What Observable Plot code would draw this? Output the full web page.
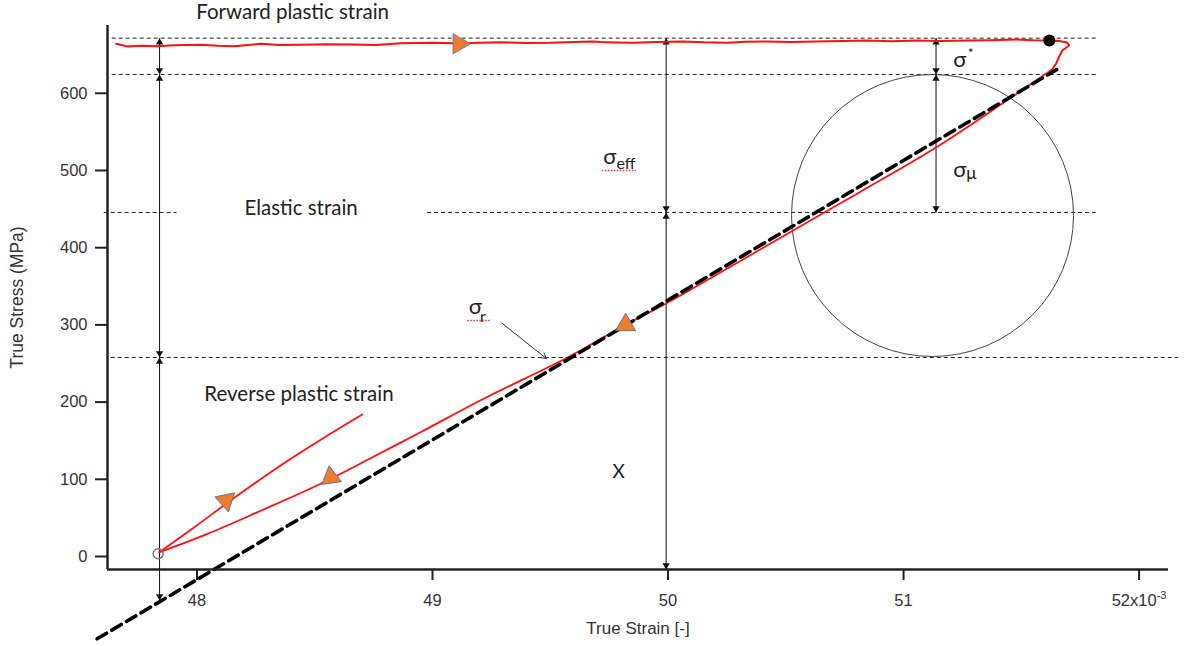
<!DOCTYPE html>
<html><head><meta charset="utf-8">
<script src="https://cdn.jsdelivr.net/npm/d3@7"></script>
<script src="https://cdn.jsdelivr.net/npm/@observablehq/plot@0.6"></script>
<style>body{margin:0;background:#fff;} svg{display:block;}</style>
</head><body><div id="chart"></div>
<script>
// Axis ticks
const strainTicks = [48, 49, 50, 51, 52];
const stressTicks = [0, 100, 200, 300, 400, 500, 600];

// Forward plastic strain branch (true strain x1e-3, true stress MPa) incl. turn at peak
const forwardStrain = [47.657,47.706,47.76,47.833,47.9,48.017,48.09,48.158,48.271,48.35,48.441,48.55,48.653,48.76,48.864,49.006,49.119,49.2,49.288,49.4,49.5,49.6,49.682,49.712,49.78,49.852,49.95,50.064,50.15,50.25,50.33,50.419,50.52,50.631,50.74,50.843,50.95,51.055,51.16,51.267,51.37,51.479,51.55,51.619,51.661,51.695,51.703,51.674,51.661,51.648,51.631];
const forwardStress = [664.1,660.6,661.5,661.0,662.2,662.8,661.6,661.0,664.1,662.4,662.8,663.5,663.2,662.6,664.9,665.4,664.5,665.6,666.2,665.1,665.4,666.4,667.1,666.3,665.8,665.4,666.5,667.1,666.0,665.4,666.8,667.1,666.5,667.1,667.6,668.4,667.3,668.4,667.7,668.4,668.8,669.7,668.6,668.4,667.7,665.8,661.9,655.4,647.7,638.6,630.8];

// Unloading branch (down to the reversal point)
const unloadStrain = [51.631,51.449,51.136,50.814,50.531,49.994,49.822,49.571,49.217,48.949,48.751,48.525,48.257,48.045,47.840];
const unloadStress = [630.8,592.9,529.4,471.9,422.3,328.1,300.5,257.4,204.3,161.0,129.5,94.2,57.4,29.4,5.6];

// Reloading branch
const reloadStrain = [47.840,47.989,48.172,48.398,48.554,48.702];
const reloadStress = [5.6,38.0,79.0,126.6,156.7,183.9];

// Elastic (dashed) line
const elasticStrain = [47.576, 51.650];
const elasticStress = [-106.6, 630.7];

// Horizontal guide levels
const guideLevel = [671.4, 624.4, 445.6, 445.6, 257.8];
const guideFrom  = [47.640, 47.640, 47.606, 48.979, 47.636];
const guideTo    = [51.818, 51.818, 47.915, 51.818, 52.169];

// Vertical double arrows
const arrowStrain = [47.841, 47.841, 47.841, 49.992, 49.992, 51.138, 51.138];
const arrowTop    = [671.4, 624.4, 257.8, 671.4, 445.6, 671.4, 624.4];
const arrowBottom = [624.4, 257.8, -57.0, 445.6, -16.84, 624.4, 445.6];

// Direction markers (orange triangles)
const markerStrain = [49.112, 49.820, 48.568, 48.123];
const markerStress = [664.1, 300.0, 102.6, 72.5];
const markerAngle  = [90, 240, -8, 168];

// Peak and reversal points
const peakStrain = [51.619], peakStress = [668.4];
const reversalStrain = [47.835], reversalStress = [3.5];

// Yield surface circle centre
const circleStrain = [51.123], circleStress = [441.7];

// Text labels
const labelText   = ["Forward plastic strain", "Elastic strain", "Reverse plastic strain", "X"];
const labelStrain = [48.406, 48.442, 48.433, 49.790];
const labelStress = [704.4, 450.9, 209.8, 110.1];
const labelSize   = [20.5, 20.5, 20.5, 19];

// Greek symbols and their sub/superscripts
const sigmaStrain = [49.725, 49.154, 51.211, 51.211];
const sigmaStress = [518.1, 323.2, 643.1, 500.6];
const scriptText   = ["eff", "r", "*", "μ"];
const scriptStrain = [49.781, 49.202, 51.273, 51.266];
const scriptStress = [508.8, 310.1, 650.9, 495.6];
const scriptSize   = [16, 16, 14, 17];

// sigma_r pointer
const pointerFrom = [49.295, 302.2], pointerTo = [49.483, 256.5];

// spell-check underlines
const squiggleFrom = [49.721, 49.150], squiggleTo = [49.866, 49.248], squiggleLevel = [500.0, 305.7];

const idx = n => d3.range(n);
const serif = "Lato, 'Open Sans', 'DejaVu Sans', sans-serif";
const axisFont = "'Liberation Sans', Arial, sans-serif";

const chart = Plot.plot({
  width: 1184, height: 646,
  marginLeft: 107, marginRight: 16, marginTop: 25, marginBottom: 77,
  x: {domain: [47.62, 52.125]},
  y: {domain: [-16.84, 687.8]},
  style: {fontFamily: axisFont, fontSize: "16px", background: "white", overflow: "visible", color: "#333"},
  marks: [
    // guides
    Plot.ruleY(idx(guideLevel.length), {y: guideLevel, x1: guideFrom, x2: guideTo, stroke: "#222", strokeWidth: 1, strokeDasharray: "4,3"}),
    // circle
    Plot.dot(idx(1), {x: circleStrain, y: circleStress, r: 141, stroke: "#444", strokeWidth: 1, fill: "none"}),
    // vertical arrows
    Plot.link(idx(arrowStrain.length), {x1: arrowStrain, x2: arrowStrain, y1: arrowTop, y2: arrowBottom, stroke: "#111", strokeWidth: 1}),
    Plot.dot(idx(arrowStrain.length), {x: arrowStrain, y: arrowTop, symbol: "triangle", r: 2.7, fill: "#111", stroke: "none", dy: 4.2}),
    Plot.dot(idx(arrowStrain.length), {x: arrowStrain, y: arrowBottom, symbol: "triangle", r: 2.7, fill: "#111", stroke: "none", rotate: 180, dy: -4.2}),
    // red curves
    Plot.line(idx(forwardStrain.length), {x: forwardStrain, y: forwardStress, stroke: "#ff1010", strokeWidth: 2}),
    Plot.line(idx(unloadStrain.length), {x: unloadStrain, y: unloadStress, stroke: "#ff1010", strokeWidth: 1.8, curve: "catmull-rom"}),
    Plot.line(idx(reloadStrain.length), {x: reloadStrain, y: reloadStress, stroke: "#ff1010", strokeWidth: 1.8, curve: "catmull-rom"}),
    // elastic dashed line
    Plot.line(idx(2), {x: elasticStrain, y: elasticStress, stroke: "#000", strokeWidth: 3.6, strokeDasharray: "11,6"}),
    // sigma_r pointer
    Plot.arrow(idx(1), {x1: [pointerFrom[0]], y1: [pointerFrom[1]], x2: [pointerTo[0]], y2: [pointerTo[1]], stroke: "#333", strokeWidth: 1, headLength: 9, inset: 0, bend: 0}),
    // direction markers
    Plot.dot(idx(markerStrain.length), {x: markerStrain, y: markerStress, rotate: markerAngle, symbol: "triangle", r: 7.5, fill: "#ED7D31", stroke: "#4A6FA5", strokeWidth: 0.8}),
    // peak and reversal
    Plot.dot(idx(1), {x: peakStrain, y: peakStress, r: 6, fill: "#000", stroke: "none"}),
    Plot.dot(idx(1), {x: reversalStrain, y: reversalStress, r: 5, fill: "none", stroke: "#777", strokeWidth: 1.5}),
    // labels
    Plot.text(idx(labelText.length), {x: labelStrain, y: labelStress, text: labelText, fontSize: labelSize, fontFamily: serif, fill: "#222"}),
    Plot.text(idx(4), {x: sigmaStrain, y: sigmaStress, text: () => "σ", textAnchor: "start", fontSize: 22, fontFamily: serif, fill: "#222"}),
    Plot.text(idx(4), {x: scriptStrain, y: scriptStress, text: scriptText, textAnchor: "start", fontSize: scriptSize, fontFamily: serif, fill: "#222"}),
    Plot.ruleY(idx(2), {y: squiggleLevel, x1: squiggleFrom, x2: squiggleTo, stroke: "#e03030", strokeWidth: 1.3, strokeDasharray: "1.5,1.5"}),
    // axes
    Plot.ruleX([47.62], {stroke: "#222", strokeWidth: 2.5}),
    Plot.ruleY([-16.84], {stroke: "#222", strokeWidth: 2.5}),
    Plot.axisY(stressTicks, {tickSize: 12, tickPadding: 8, strokeWidth: 2, stroke: "#222", fill: "#333", fontSize: 16.5, fontFamily: axisFont, label: null}),
    Plot.axisX(strainTicks, {tickSize: 11, tickPadding: 14, strokeWidth: 2, stroke: "#222", fill: "#333", fontSize: 16.5, fontFamily: axisFont, label: null,
      tickFormat: d => d === 52 ? "52x10" : String(d)}),
    Plot.text(["True Stress (MPa)"], {frameAnchor: "left", dx: -90, rotate: -90, textAnchor: "middle", lineAnchor: "middle", fontSize: 17.5, fontFamily: axisFont, fill: "#333"}),
    Plot.text(["True Strain [-]"], {frameAnchor: "bottom", dy: 59, textAnchor: "middle", lineAnchor: "middle", fontSize: 17, fontFamily: axisFont, fill: "#333"})
  ]
});

d3.select(chart).selectAll("text").filter(function(){ return this.textContent === "52x10"; })
  .append("tspan").attr("dy", "-0.65em").attr("font-size", "11px").text("-3");

document.getElementById("chart").appendChild(chart);
</script>
</body></html>
